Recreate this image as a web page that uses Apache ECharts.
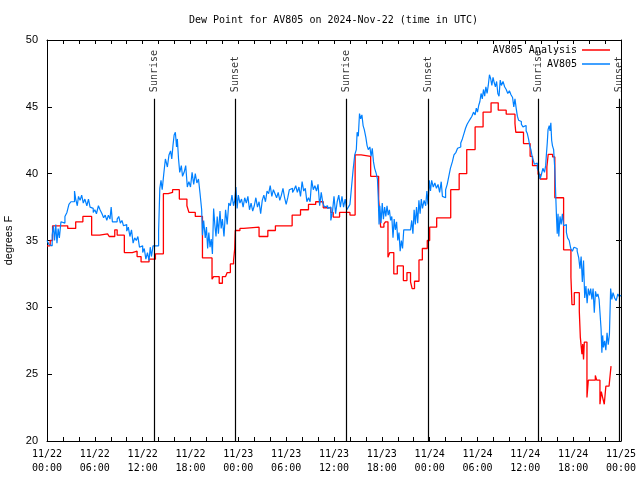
<!DOCTYPE html>
<html>
<head>
<meta charset="utf-8">
<script src="https://cdn.jsdelivr.net/npm/echarts@6/dist/echarts.min.js"></script>
<style>html,body{margin:0;padding:0;background:#fff}#c{width:640px;height:480px}</style>
</head>
<body>
<div id="c"></div>
<script>
// time in hours since 2024-11-22 00:00 UTC
const xTickLabels = ['11/22\n00:00','11/22\n06:00','11/22\n12:00','11/22\n18:00','11/23\n00:00','11/23\n06:00','11/23\n12:00','11/23\n18:00','11/24\n00:00','11/24\n06:00','11/24\n12:00','11/24\n18:00','11/25\n00:00'];
const sunTimes = [13.48, 23.62, 37.57, 47.79, 61.6, 71.82];
const sunNames = ['Sunrise','Sunset','Sunrise','Sunset','Sunrise','Sunset'];

const analysis = [
[0,34.6],[0.4,35.0],[0.7,36.1],[2.6,35.9],[3.6,36.4],[4.5,36.8],[5.6,35.4],[6.6,35.5],[7.6,35.6],[7.8,35.3],[8.5,35.8],[8.8,35.4],[9.7,34.1],[10.7,34.2],[11.3,33.8],[11.8,33.4],[12.8,33.6],[13.6,34.0],[14.6,38.5],[15.2,38.6],[15.75,38.8],[16.6,38.1],[17.55,37.6],[17.8,37.1],[18.6,36.8],[19.5,33.7],[20.7,32.1],[20.9,32.3],[21.6,31.8],[22.0,32.3],[22.4,32.4],[22.6,32.6],[23.0,33.25],[23.4,33.5],[23.55,34.4],[23.62,35.75],[24.2,35.9],[24.67,36.0],[26.6,35.3],[27.7,35.75],[28.65,36.1],[30.75,36.9],[31.8,37.3],[32.8,37.7],[33.7,37.9],[34.65,37.45],[35.6,37.1],[35.9,36.75],[36.7,37.1],[38.0,36.9],[38.65,41.4],[39.4,41.3],[40.6,39.8],[41.6,38.1],[41.85,36.0],[42.26,36.25],[42.47,36.4],[42.77,33.75],[43.0,34.1],[43.5,32.5],[43.94,33.1],[44.7,32.0],[45.15,32.6],[45.6,31.9],[45.8,31.4],[46.1,31.95],[46.66,33.55],[47.08,34.4],[47.7,35.0],[48.0,36.0],[48.88,36.7],[50.64,38.8],[51.7,40.0],[52.65,41.8],[53.7,43.5],[54.7,44.6],[55.7,45.3],[56.6,44.75],[57.6,44.45],[58.7,43.75],[58.8,43.1],[59.77,42.25],[60.6,41.3],[60.9,40.6],[61.6,39.95],[61.86,39.6],[62.7,40.5],[62.87,41.45],[63.42,41.25],[63.7,38.2],[64.8,34.3],[65.72,32.25],[65.85,30.2],[66.14,31.1],[66.77,29.7],[66.9,27.75],[67.1,26.5],[67.2,27.25],[67.3,26.1],[67.4,27.4],[67.73,23.25],[67.9,24.55],[68.78,24.9],[68.95,24.55],[69.36,22.75],[69.53,23.7],[69.7,23.25],[69.9,22.75],[70.1,24.1],[70.5,24.2],[70.75,25.6]
];

const observed = [
[0,35.0],[0.25,34.7],[0.5,34.6],[0.65,35.4],[0.8,36.1],[0.95,35.0],[1.1,36.2],[1.25,34.8],[1.4,35.9],[1.55,35.2],[1.75,36.4],[2.0,36.3],[2.25,36.8],[2.5,37.1],[2.75,37.7],[3.0,37.9],[3.25,37.9],[3.45,38.7],[3.6,38.1],[3.8,37.6],[3.95,38.3],[4.15,38.0],[4.35,38.4],[4.55,37.8],[4.75,38.1],[5.0,37.6],[5.2,38.1],[5.4,37.5],[5.6,37.4],[5.8,37.1],[6.0,37.3],[6.2,37.0],[6.45,37.6],[6.65,37.3],[6.9,37.0],[7.1,36.7],[7.3,36.9],[7.5,36.5],[7.7,36.9],[7.9,36.6],[8.05,37.5],[8.2,36.4],[8.5,36.4],[8.8,36.6],[9.0,36.8],[9.2,36.3],[9.4,36.5],[9.6,36.1],[9.8,36.2],[10.0,35.7],[10.2,36.0],[10.4,35.3],[10.6,35.8],[10.8,34.8],[11.0,35.2],[11.2,35.0],[11.4,35.3],[11.6,34.5],[11.8,34.6],[12.0,34.1],[12.2,34.4],[12.4,33.6],[12.6,34.1],[12.8,33.5],[12.95,34.5],[13.1,33.8],[13.3,34.6],[14.0,35.7],[14.15,38.9],[14.3,39.5],[14.45,38.8],[14.65,40.0],[14.85,41.1],[15.1,40.5],[15.3,41.4],[15.5,41.7],[15.65,41.1],[15.8,42.1],[15.95,42.9],[16.1,43.1],[16.25,42.0],[16.35,42.6],[16.5,41.1],[16.65,40.1],[16.85,40.6],[17.0,39.8],[17.2,40.1],[17.4,40.6],[17.6,39.0],[17.8,39.4],
[18.0,39.0],[18.2,40.1],[18.4,39.2],[18.6,40.0],[18.8,39.3],[19.0,39.6],[19.2,38.5],[19.4,37.3],[19.5,35.4],[19.65,36.5],[19.85,35.2],[20.0,36.0],[20.15,34.4],[20.3,35.6],[20.45,34.5],[20.6,35.1],[20.75,34.0],[20.9,37.4],[21.05,36.2],[21.2,35.3],[21.35,36.8],[21.5,35.5],[21.7,37.2],[21.85,35.9],[22.0,36.6],[22.2,35.3],[22.4,37.3],[22.6,36.2],[22.8,37.8],[23.0,37.6],[23.2,38.4],[23.4,37.6],[23.55,38.0],[23.7,39.0],[23.85,37.4],[24.0,38.4],[24.2,37.8],[24.4,38.1],[24.6,37.5],[24.8,38.2],[25.0,37.8],[25.2,38.3],[25.4,37.3],[25.6,37.8],[25.8,37.2],[26.0,37.6],[26.2,38.2],[26.4,37.5],[26.6,37.9],[26.8,37.0],[27.0,38.0],[27.2,38.4],[27.4,37.9],[27.6,38.7],[27.8,38.5],[28.0,39.1],[28.2,38.3],[28.4,38.8],[28.6,38.5],[28.8,38.2],[29.0,38.6],[29.2,38.0],[29.4,38.4],[29.6,38.9],[29.8,38.2],[30.0,37.7],[30.2,38.2],[30.4,38.8],[30.6,38.9],[30.8,38.6],[31.0,38.8],[31.2,39.1],[31.4,38.6],[31.6,39.0],[31.8,38.3],[32.0,39.4],[32.2,38.7],[32.4,38.9],[32.6,37.9],[32.8,38.2],[33.0,37.9],[33.2,39.5],[33.4,38.8],[33.6,39.1],[33.8,38.7],[34.0,39.2],[34.2,37.6],[34.4,38.6],[34.6,37.8],[34.8,37.5],[35.0,37.6],[35.2,37.4],[35.4,37.5],[35.6,36.5],[35.8,37.1],[36.0,38.3],[36.2,37.0],
[36.4,37.9],[36.6,38.4],[36.8,37.5],[37.0,38.3],[37.2,37.5],[37.4,38.1],[37.6,37.3],[37.8,37.5],[38.0,37.7],[38.2,39.0],[38.4,40.3],[38.6,41.4],[38.8,41.8],[38.9,43.1],[39.05,42.8],[39.2,44.5],[39.35,44.1],[39.5,44.4],[39.65,43.6],[39.8,43.3],[40.0,42.7],[40.15,42.1],[40.3,41.8],[40.5,42.0],[40.65,41.3],[40.8,41.9],[40.95,40.9],[41.1,40.4],[41.3,40.0],[41.45,39.6],[41.55,38.2],[41.65,36.2],[41.75,37.6],[41.9,36.3],[42.05,37.8],[42.2,36.6],[42.35,37.5],[42.5,36.8],[42.65,37.6],[42.8,36.9],[42.95,37.3],[43.1,36.5],[43.25,36.8],[43.4,35.2],[43.55,36.6],[43.7,35.8],[43.85,36.4],[44.0,35.0],[44.15,35.6],[44.3,34.2],[44.45,35.0],[44.6,34.4],[44.75,35.8],[45.6,35.8],[45.75,36.5],[45.9,35.5],[46.05,37.3],[46.2,36.2],[46.35,37.5],[46.5,36.3],[46.65,38.0],[46.8,37.0],[46.95,38.1],[47.1,37.4],[47.3,38.0],[47.5,37.6],[47.65,38.7],[47.8,37.7],[47.95,39.5],[48.1,38.7],[48.25,39.5],[48.45,39.0],[48.65,39.3],[48.85,38.9],[49.05,39.2],[49.25,38.6],[49.45,39.4],[49.6,38.3],[49.8,38.2],[50.0,38.8],[50.2,39.2],[50.4,39.8],[50.6,40.4],[50.85,40.9],[51.05,41.4],[51.3,41.6],[51.5,41.9],[51.7,42.0],[51.9,42.3],[52.1,42.6],[52.3,43.0],[52.5,43.4],[52.7,43.7],[52.9,43.9],[53.1,44.1],[53.3,44.3],[53.5,44.6],[53.7,44.4],[53.85,44.9],[54.0,44.6],[54.15,45.1],
[54.3,45.4],[54.45,46.0],[54.6,45.6],[54.75,46.3],[54.9,45.8],[55.05,46.5],[55.2,46.0],[55.35,46.6],[55.5,47.4],[55.65,47.1],[55.8,46.6],[55.95,47.2],[56.1,46.8],[56.25,46.5],[56.4,46.9],[56.55,46.0],[56.7,45.8],[56.85,47.0],[57.0,46.6],[57.2,46.9],[57.4,46.5],[57.6,46.3],[57.8,46.0],[58.0,46.2],[58.2,45.9],[58.4,45.7],[58.55,45.0],[58.7,45.6],[58.85,44.9],[59.0,44.3],[59.15,44.0],[59.3,43.9],[59.5,43.7],[59.7,43.5],[59.9,43.6],[60.1,43.2],[60.25,43.0],[60.4,42.6],[60.55,42.1],[60.7,41.8],[60.85,41.3],[61.0,41.0],[61.15,40.7],[61.3,40.8],[61.5,40.4],[61.7,40.1],[61.85,39.6],[62.0,39.9],[62.2,40.4],[62.4,40.1],[62.55,40.6],[62.65,41.5],[62.75,42.3],[62.85,43.3],[63.0,43.6],[63.1,43.2],[63.2,43.8],[63.3,42.5],[63.4,42.1],[63.55,41.8],[63.7,40.3],[63.8,38.6],[63.9,36.9],[64.0,35.5],[64.1,37.0],[64.2,35.3],[64.35,36.8],[64.5,36.2],[64.65,37.0],[64.8,36.1],[65.0,36.2],[65.15,35.6],[65.3,35.2],[65.5,35.0],[65.7,34.4],[65.9,34.2],[66.1,34.5],[66.3,34.4],[66.5,34.2],[66.7,33.7],[66.85,32.9],[67.0,33.8],[67.15,31.9],[67.3,33.5],[67.45,30.7],[67.6,31.6],[67.75,30.3],[67.9,31.4],[68.05,30.9],[68.2,31.4],[68.35,30.6],[68.5,31.4],[68.65,29.6],[68.8,31.2],[68.95,30.8],[69.1,31.0],[69.25,30.6],[69.4,30.6],[69.5,28.4],[69.6,26.6],[69.7,27.9],[69.8,27.0],[69.95,27.5],[70.1,26.8],[70.25,28.1],[70.4,27.2],[70.55,28.0],[70.7,31.4],[70.85,30.6],[71.0,31.1],[71.2,30.7],[71.4,30.5],[71.6,31.0],[71.8,30.8],[72.0,30.9]
];

const MONO = 'DejaVu Sans Mono';
const SANS = 'Liberation Sans';
const sunLineTop = 45.6;
const sunLabelBase = 46.1;

const chart = echarts.init(document.getElementById('c'), null, {renderer:'canvas'});
const axisLineStyle = {color:'#000', width:1};
const legendCommon = {orient:'vertical', align:'right', itemWidth:28, itemHeight:1.5, icon:'rect', padding:0,
  textStyle:{fontFamily:MONO, fontSize:10, color:'#000'}};
chart.setOption({
  animation:false,
  backgroundColor:'#fff',
  title:{text:'Dew Point for AV805 on 2024-Nov-22 (time in UTC)', left:189, top:15, padding:0,
    textStyle:{fontFamily:MONO, fontSize:10, fontWeight:'normal', color:'#000'}},
  legend:[
    Object.assign({data:['AV805 Analysis'], right:30, top:45}, legendCommon),
    Object.assign({data:['AV805'], right:30, top:59}, legendCommon)
  ],
  grid:{left:47, right:19, top:40, bottom:39, containLabel:false, outerBoundsMode:'none'},
  xAxis:[
    {type:'value', min:0, max:72, interval:2, position:'bottom',
     axisLine:{show:true, onZero:false, lineStyle:axisLineStyle},
     axisTick:{show:true, inside:true, length:4, lineStyle:axisLineStyle},
     axisLabel:{formatter:function(v){return (v%6===0)? xTickLabels[v/6] : '';}, fontFamily:MONO, fontSize:10, color:'#000', lineHeight:14, margin:6},
     splitLine:{show:false}},
    {type:'value', min:0, max:72, interval:2, position:'top',
     axisLine:{show:true, onZero:false, lineStyle:axisLineStyle},
     axisTick:{show:true, inside:true, length:4, lineStyle:axisLineStyle},
     axisLabel:{show:false}, splitLine:{show:false}}
  ],
  yAxis:[
    {type:'value', min:20, max:50, interval:5, position:'left',
     name:'degrees F', nameLocation:'middle', nameGap:31, nameRotate:90,
     nameTextStyle:{fontFamily:SANS, fontSize:11, color:'#000'},
     axisLine:{show:true, onZero:false, lineStyle:axisLineStyle},
     axisTick:{show:true, inside:true, length:5, lineStyle:axisLineStyle},
     axisLabel:{fontFamily:SANS, fontSize:11, color:'#000', margin:9},
     splitLine:{show:false}},
    {type:'value', min:20, max:50, interval:5, position:'right',
     axisLine:{show:true, onZero:false, lineStyle:axisLineStyle},
     axisTick:{show:true, inside:true, length:5, lineStyle:axisLineStyle},
     axisLabel:{show:false}, splitLine:{show:false}}
  ],
  series:[
    {name:'sun', type:'scatter', symbolSize:0, silent:true, z:1,
     data: sunTimes.map((t,i)=>({value:[t, sunLabelBase], name:sunNames[i]})),
     label:{show:true, position:'inside', rotate:90, align:'left', verticalAlign:'middle',
       formatter:p=>p.name, fontFamily:MONO, fontSize:10, color:'#000'},
     markLine:{silent:true, symbol:['none','none'], label:{show:false},
       lineStyle:{color:'#000', width:1.2, type:'solid'},
       data: sunTimes.map(t=>[{coord:[t,20]},{coord:[t,sunLineTop]}])}
    },
    {name:'AV805 Analysis', type:'line', step:'end', symbol:'none', data:analysis,
     lineStyle:{color:'#ff0000', width:1.3}, itemStyle:{color:'#ff0000'}, z:2},
    {name:'AV805', type:'line', step:'end', symbol:'none', data:observed,
     lineStyle:{color:'#0080ff', width:1.2}, itemStyle:{color:'#0080ff'}, z:3}
  ]
});
</script>
</body>
</html>
